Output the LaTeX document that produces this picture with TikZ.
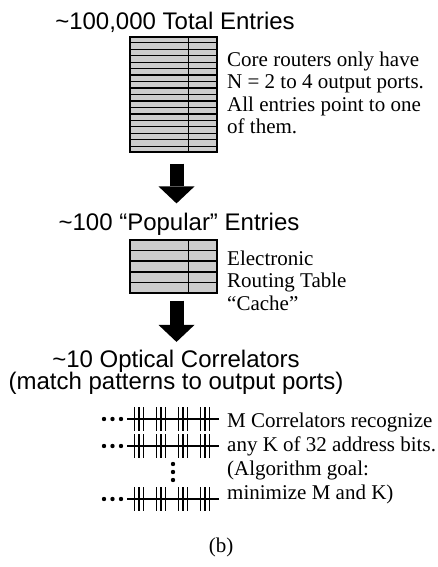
\documentclass[tikz,border=0pt]{standalone}
\usepackage{fontspec}
\setmainfont{Liberation Serif}
\newfontfamily\headfont{Liberation Sans}
\usetikzlibrary{arrows.meta,calc}

\begin{document}
\begin{tikzpicture}[x=1pt,y=-1pt,
heading/.style={font=\headfont\fontsize{24}{24}\selectfont,inner sep=0pt,anchor=base},
note/.style={font=\fontsize{21}{22.5}\selectfont,align=left,inner sep=0pt,anchor=north west},
routetable/.style={draw,line width=1.4pt,fill=black!20,minimum width=87pt,inner sep=0pt},
rowline/.style={line width=1.3pt},
bigarrow/.style={line width=14pt,-{Triangle[length=17pt,width=36pt,line width=0pt]}},
bitline/.style={line width=1.8pt}]
\useasboundingbox (0,0) rectangle (438,567);

\node[heading] (total) at (175,30) {\textasciitilde100,000 Total Entries};
\node[routetable,minimum height=115pt] (tbl1) at (173.5,94.5) {};
\foreach \i in {1,...,17}
  \draw[rowline] ($(tbl1.north west)!\i/18!(tbl1.south west)$) -- ($(tbl1.north east)!\i/18!(tbl1.south east)$);
\draw[rowline] ($(tbl1.north west)!.667!(tbl1.north east)$) -- ($(tbl1.south west)!.667!(tbl1.south east)$);
\node[note] (coretext) at (227,51.7) {Core routers only have\\N = 2 to 4 output ports.\\All entries point to one\\of them.};

\node[heading] (popular) at (179,230) {\textasciitilde100 “Popular” Entries};
\node[routetable,minimum height=53pt] (tbl2) at (173.5,266.5) {};
\foreach \i in {1,...,4}
  \draw[rowline] ($(tbl2.north west)!\i/5!(tbl2.south west)$) -- ($(tbl2.north east)!\i/5!(tbl2.south east)$);
\draw[rowline] ($(tbl2.north west)!.667!(tbl2.north east)$) -- ($(tbl2.south west)!.667!(tbl2.south east)$);
\node[note] (cachetext) at (227,250.7) {Electronic\\Routing Table\\“Cache”};

\node[heading] (optical) at (176,367) {\textasciitilde10 Optical Correlators};
\node[heading] (ports) at (176,389) {(match patterns to output ports)};

\draw[bigarrow,shorten <=11pt,shorten >=9pt] ([xshift=3pt]tbl1.south) -- ([xshift=3pt]tbl1.south |- popular.north);
\draw[bigarrow,shorten <=7pt,shorten >=7.5pt] ([xshift=3pt]tbl2.south) -- ([xshift=3pt]tbl2.south |- optical.north);

\foreach \y in {419,446,499}{
  \foreach \x in {104,112.5,121} \fill (\x,\y) circle (2.2pt);
  \draw[bitline] (127,\y) -- (219,\y);
  \foreach \g in {139,161,183,205}
    \foreach \d in {-4.5,0,4.5}
      \draw[bitline] (\g+\d,\y-12) -- (\g+\d,\y+12);
}
\foreach \y in {464,472,480} \fill (173,\y) circle (2.2pt);
\node[note,font=\fontsize{21}{24}\selectfont] (corrtext) at (227,412.7) {M Correlators recognize\\any K of 32 address bits.\\(Algorithm goal:\\minimize M and K)};

\node[font=\fontsize{21}{22}\selectfont,inner sep=0pt,anchor=base] (caption) at (221,552) {(b)};
\end{tikzpicture}
\end{document}
